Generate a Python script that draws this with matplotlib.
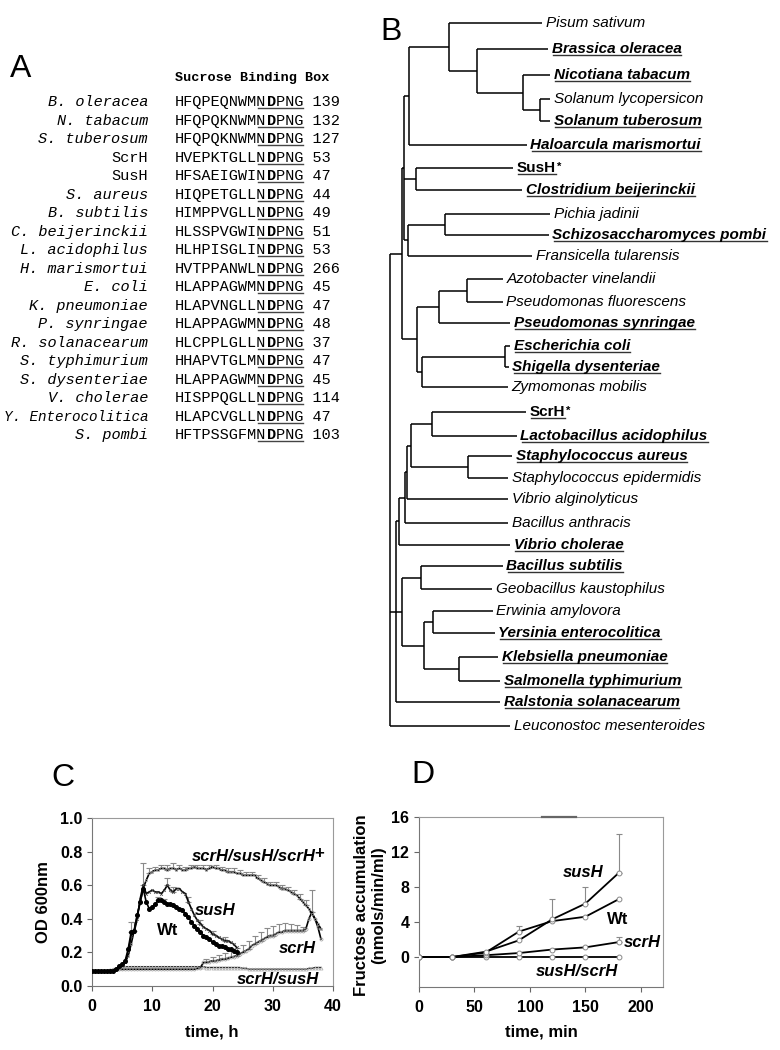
import matplotlib
matplotlib.use('Agg')
import matplotlib.pyplot as plt
import numpy as np

plt.rcParams['font.family'] = ['Liberation Sans', 'DejaVu Sans']

W, H = 780, 1050
fig = plt.figure(figsize=(7.8, 10.5), dpi=100)
fig.patch.set_facecolor('white')


def fx(px):
    return px / W


def fy(py):
    return 1 - py / H


# ---------------- Panel A data ----------------
seq_names = ["B. oleracea", "N. tabacum", "S. tuberosum", "ScrH", "SusH", "S. aureus",
             "B. subtilis", "C. beijerinckii", "L. acidophilus", "H. marismortui", "E. coli",
             "K. pneumoniae", "P. synringae", "R. solanacearum", "S. typhimurium",
             "S. dysenteriae", "V. cholerae", "Y. Enterocolitica", "S. pombi"]
seq_italic = [True, True, True, False, False, True, True, True, True, True, True,
              True, True, True, True, True, True, True, True]
seq_prefix = ["HFQPEQNWM", "HFQPQKNWM", "HFQPQKNWM", "HVEPKTGLL", "HFSAEIGWI", "HIQPETGLL",
              "HIMPPVGLL", "HLSSPVGWI", "HLHPISGLI", "HVTPPANWL", "HLAPPAGWM", "HLAPVNGLL",
              "HLAPPAGWM", "HLCPPLGLL", "HHAPVTGLM", "HLAPPAGWM", "HISPPQGLL", "HLAPCVGLL",
              "HFTPSSGFM"]
motif = "NDPNG"
seq_pos = [139, 132, 127, 53, 47, 44, 49, 51, 53, 266, 45, 47, 48, 37, 47, 45, 114, 47, 103]

# ---------------- Panel B data ----------------
leaf_names = ["Pisum sativum", "Brassica oleracea", "Nicotiana tabacum", "Solanum lycopersicon",
              "Solanum tuberosum", "Haloarcula marismortui", "SusH", "Clostridium beijerinckii",
              "Pichia jadinii", "Schizosaccharomyces pombi", "Fransicella tularensis",
              "Azotobacter vinelandii", "Pseudomonas fluorescens", "Pseudomonas synringae",
              "Escherichia coli", "Shigella dysenteriae", "Zymomonas mobilis", "ScrH",
              "Lactobacillus acidophilus", "Staphylococcus aureus", "Staphylococcus epidermidis",
              "Vibrio alginolyticus", "Bacillus anthracis", "Vibrio cholerae", "Bacillus subtilis",
              "Geobacillus kaustophilus", "Erwinia amylovora", "Yersinia enterocolitica",
              "Klebsiella pneumoniae", "Salmonella typhimurium", "Ralstonia solanacearum",
              "Leuconostoc mesenteroides"]
leaf_y = [23, 49, 75, 99, 121, 145, 168, 190, 214, 235, 256, 279, 302, 323, 346, 367, 387,
          412, 436, 456, 478, 499, 523, 545, 566, 589, 611, 633, 657, 681, 702, 726]
leaf_tip = [152, 158, 160, 160, 160, 137, 123, 132, 160, 159, 142, 113, 113, 120, 120, 119, 118,
            136, 127, 122, 118, 118, 118, 120, 113, 102, 103, 105, 108, 110, 110, 120]
leaf_bold = [False, True, True, False, True, True, True, True, False, True, False, False, False,
             True, True, True, False, True, True, True, False, False, False, True, True, False,
             False, True, True, True, True, False]
leaf_star = ["SusH", "ScrH"]

# node = (depth, [children]); depth measured from the root
tree = (0, [
    (12, [
        (14, [
            (19, [
                (59, ["Pisum sativum",
                      (87, ["Brassica oleracea",
                            (133, ["Nicotiana tabacum",
                                   (150, ["Solanum lycopersicon", "Solanum tuberosum"])])])]),
                "Haloarcula marismortui"]),
            (26, ["SusH", "Clostridium beijerinckii"]),
            (18, [(55, ["Pichia jadinii", "Schizosaccharomyces pombi"]),
                  "Fransicella tularensis"]),
        ]),
        (27, [
            (49, [(77, ["Azotobacter vinelandii", "Pseudomonas fluorescens"]),
                  "Pseudomonas synringae"]),
            (32, [(115, ["Escherichia coli", "Shigella dysenteriae"]), "Zymomonas mobilis"]),
        ]),
    ]),
    (6, [
        (9, [
            (15, [
                (17, [
                    (21, [(42, ["ScrH", "Lactobacillus acidophilus"]),
                          (78, ["Staphylococcus aureus", "Staphylococcus epidermidis"])]),
                    "Vibrio alginolyticus"]),
                "Bacillus anthracis"]),
            "Vibrio cholerae"]),
        (12, [(31, ["Bacillus subtilis", "Geobacillus kaustophilus"]),
              (34, [(43, ["Erwinia amylovora", "Yersinia enterocolitica"]),
                    (69, ["Klebsiella pneumoniae", "Salmonella typhimurium"])])]),
        "Ralstonia solanacearum"]),
    "Leuconostoc mesenteroides"])

# ---------------- Panel C data ----------------
c_time = np.arange(0, 38.01, 0.5)
c_time_short = np.arange(0, 24.01, 0.5)
c_comp = [0.09, 0.09, 0.09, 0.09, 0.09, 0.09, 0.09, 0.095, 0.10, 0.11,
          0.12, 0.14, 0.18, 0.25, 0.33, 0.42, 0.50, 0.58, 0.63, 0.67,
          0.68, 0.69, 0.69, 0.70, 0.70, 0.69, 0.70, 0.70, 0.69, 0.70,
          0.69, 0.69, 0.70, 0.70, 0.71, 0.70, 0.70, 0.70, 0.69, 0.70,
          0.71, 0.70, 0.70, 0.69, 0.69, 0.68, 0.68, 0.68, 0.67, 0.67,
          0.66, 0.66, 0.66, 0.66, 0.66, 0.64, 0.63, 0.62, 0.61, 0.60,
          0.60, 0.60, 0.59, 0.58, 0.58, 0.57, 0.56, 0.55, 0.54, 0.52,
          0.50, 0.48, 0.46, 0.43, 0.40, 0.37, 0.34]
c_wt = [0.09, 0.09, 0.09, 0.09, 0.09, 0.09, 0.09, 0.09, 0.10, 0.12,
        0.13, 0.15, 0.22, 0.32, 0.33, 0.42, 0.50, 0.58, 0.50, 0.46,
        0.47, 0.49, 0.51, 0.51, 0.50, 0.49, 0.49, 0.48, 0.47, 0.46,
        0.45, 0.43, 0.41, 0.38, 0.36, 0.34, 0.32, 0.30, 0.29, 0.28,
        0.26, 0.25, 0.24, 0.24, 0.23, 0.22, 0.22, 0.21, 0.20]
c_sus = [0.09, 0.09, 0.09, 0.09, 0.09, 0.09, 0.09, 0.09, 0.10, 0.12,
         0.13, 0.14, 0.20, 0.30, 0.32, 0.40, 0.52, 0.60, 0.55, 0.56,
         0.57, 0.56, 0.56, 0.55, 0.57, 0.60, 0.57, 0.56, 0.58, 0.58,
         0.56, 0.55, 0.50, 0.46, 0.42, 0.39, 0.37, 0.35, 0.34, 0.33,
         0.31, 0.30, 0.29, 0.28, 0.27, 0.27, 0.26, 0.25, 0.23]
c_scr = [0.09, 0.09, 0.09, 0.09, 0.09, 0.09, 0.095, 0.095, 0.10, 0.10,
         0.10, 0.10, 0.10, 0.10, 0.10, 0.10, 0.10, 0.10, 0.10, 0.10,
         0.10, 0.10, 0.10, 0.10, 0.10, 0.10, 0.10, 0.10, 0.10, 0.10,
         0.10, 0.10, 0.10, 0.10, 0.10, 0.105, 0.11, 0.14, 0.14, 0.145,
         0.15, 0.15, 0.155, 0.16, 0.16, 0.165, 0.17, 0.175, 0.18, 0.19,
         0.20, 0.21, 0.22, 0.24, 0.25, 0.26, 0.27, 0.28, 0.29, 0.30,
         0.30, 0.31, 0.32, 0.32, 0.33, 0.33, 0.33, 0.33, 0.33, 0.33,
         0.33, 0.34, 0.40, 0.44, 0.40, 0.35, 0.28]
c_double = [0.09, 0.09, 0.09, 0.09, 0.09, 0.09, 0.09, 0.10, 0.10, 0.11,
            0.11, 0.115, 0.115, 0.115, 0.115, 0.115, 0.115, 0.115, 0.115, 0.115,
            0.115, 0.115, 0.115, 0.115, 0.115, 0.115, 0.115, 0.115, 0.115, 0.115,
            0.115, 0.115, 0.115, 0.115, 0.115, 0.115, 0.115, 0.115, 0.11, 0.11,
            0.11, 0.11, 0.11, 0.11, 0.11, 0.11, 0.11, 0.11, 0.11, 0.11,
            0.105, 0.105, 0.10, 0.10, 0.10, 0.10, 0.10, 0.10, 0.10, 0.10,
            0.10, 0.10, 0.10, 0.10, 0.10, 0.10, 0.10, 0.10, 0.10, 0.10,
            0.10, 0.10, 0.105, 0.105, 0.11, 0.11, 0.11]
c_comp_err_t = [9.5, 10.5, 11.5, 12.5, 13.5, 14.5, 15.5, 16.5, 17.5, 18.5, 19.5, 20.5, 21.5,
                22.5, 23.5, 24.5, 25.5, 26.5, 27.5, 28.5, 29.5, 30.5, 31.5, 32.5, 33.5, 34.5, 35.5]
c_comp_err = [0.03, 0.02, 0.02, 0.03, 0.03, 0.02, 0.02, 0.02, 0.02, 0.02, 0.02, 0.02, 0.02,
              0.02, 0.02, 0.02, 0.02, 0.02, 0.02, 0.02, 0.02, 0.02, 0.02, 0.02, 0.02, 0.03, 0.03]
c_wt_err_t = [6.5, 7.0, 11.0, 12.0]
c_wt_err = [0.06, 0.05, 0.02, 0.02]
c_sus_err_t = [8.5, 12.5, 13.5, 16.0, 18.0, 20.0, 22.0]
c_sus_err = [0.13, 0.04, 0.03, 0.03, 0.02, 0.02, 0.02]
c_scr_err_t = [19, 20, 21, 22, 23, 24, 25, 26, 27, 28, 29, 30, 31, 32, 33, 34, 35, 36.5]
c_scr_err = [0.02, 0.025, 0.03, 0.035, 0.04, 0.045, 0.045, 0.045, 0.05, 0.05, 0.055, 0.06,
             0.05, 0.045, 0.04, 0.035, 0.02, 0.13]

# ---------------- Panel D data ----------------
d_time = [0, 30, 60, 90, 120, 150, 180]
d_wt = [0, 0, 0.5, 2.9, 4.1, 4.6, 6.6]
d_sus = [0, 0, 0.6, 1.9, 4.3, 6.1, 9.6]
d_scr = [0, 0, 0.2, 0.45, 0.85, 1.1, 1.7]
d_double = [0, 0, 0, 0, 0, 0, 0]
d_wt_err = [0, 0, 0, 0.6, 0, 0, 0]
d_sus_err = [0, 0, 0, 0, 2.3, 1.9, 4.4]
d_scr_err = [0, 0, 0, 0, 0, 0, 0.6]

# =============== Panel A ===============
axA = fig.add_axes([0, 0, 1, 1])
axA.set_xlim(0, W)
axA.set_ylim(H, 0)
axA.axis('off')
axA.patch.set_alpha(0)

MONO = 'Liberation Mono'
fsA = 11
cw = 0.6 * fsA * 100 / 72.0
x_seq = 175
x_name = 148
row0, drow = 101.7, 18.5
axA.text(x_seq, 78, "Sucrose Binding Box", family=MONO, fontweight='bold', fontsize=9.7,
         ha='left', va='center')
for i, nm in enumerate(seq_names):
    y = row0 + i * drow
    yb = y + 4.5
    # shrink a name only if it would not fit left of the sequence column
    fs_name = min(fsA, (x_name - 2) / (0.6 * len(nm)) * 0.72)
    axA.text(x_name, yb, nm, family=MONO, fontsize=fs_name, ha='right', va='baseline',
             style='italic' if seq_italic[i] else 'normal')
    axA.text(x_seq, yb, seq_prefix[i] + motif[0], family=MONO, fontsize=fsA,
             ha='left', va='baseline')
    axA.text(x_seq + 10 * cw, yb, motif[1], family=MONO, fontsize=fsA, fontweight='bold',
             ha='left', va='baseline')
    axA.text(x_seq + 11 * cw, yb, motif[2:] + " " + str(seq_pos[i]), family=MONO,
             fontsize=fsA, ha='left', va='baseline')
    axA.plot([x_seq + 9 * cw, x_seq + 14 * cw], [yb + 2, yb + 2], color='#444', lw=1.0)

# =============== Panel B ===============
axB = fig.add_axes([0, 0, 1, 1])
axB.set_xlim(-390, W - 390)
axB.set_ylim(H, 0)
axB.axis('off')
axB.patch.set_alpha(0)
tips = {n: (y, x) for n, y, x in zip(leaf_names, leaf_y, leaf_tip)}
LW = 1.1


def draw(node, parent_x):
    if isinstance(node, str):
        y, x = tips[node]
        axB.plot([parent_x, x], [y, y], color='k', lw=LW, solid_capstyle='butt')
        return y
    x, kids = node
    ys = [draw(k, x) for k in kids]
    axB.plot([x, x], [min(ys), max(ys)], color='k', lw=LW, solid_capstyle='butt')
    y = (min(ys) + max(ys)) / 2
    if parent_x is not None:
        axB.plot([parent_x, x], [y, y], color='k', lw=LW, solid_capstyle='butt')
    return y


draw(tree, None)

label_texts = []
for n, y, x, b in zip(leaf_names, leaf_y, leaf_tip, leaf_bold):
    t = axB.text(x + 3.5, y, n, fontsize=11, ha='left', va='center',
                 fontweight='bold' if b else 'normal',
                 style='normal' if n in leaf_star else 'italic')
    label_texts.append((n, b, t))

# =============== Panel C ===============
axC = fig.add_axes([fx(92), fy(986), (333 - 92) / W, (986 - 818) / H])
axC.set_xlim(0, 40)
axC.set_ylim(0, 1.0)
ecol = '#8a8a8a'


def up_err(ax, tt, vals, et, ev):
    idx = [int(np.argmin(np.abs(np.asarray(tt) - e))) for e in et]
    xs = [tt[i] for i in idx]
    ys = [vals[i] for i in idx]
    ax.errorbar(xs, ys, yerr=[np.zeros(len(ev)), ev], fmt='none', ecolor=ecol,
                elinewidth=0.8, capsize=2, capthick=0.8, zorder=1)


up_err(axC, c_time, c_comp, c_comp_err_t, c_comp_err)
up_err(axC, c_time_short, c_wt, c_wt_err_t, c_wt_err)
up_err(axC, c_time_short, c_sus, c_sus_err_t, c_sus_err)
up_err(axC, c_time, c_scr, c_scr_err_t, c_scr_err)

axC.plot(c_time, c_double, color='#222', lw=1.0, marker='^', ms=2.2, mfc='none',
         mec='#aaa', mew=0.5, zorder=2)
axC.plot(c_time, c_scr, color='k', lw=1.2, marker='o', ms=2.2, mfc='none',
         mec='#999', mew=0.5, zorder=3)
axC.plot(c_time, c_comp, color='k', lw=1.2, marker='s', ms=2.0, mfc='none',
         mec='#999', mew=0.5, zorder=3)
axC.plot(c_time_short, c_sus, color='k', lw=1.2, marker='x', ms=2.0,
         mec='#444', mew=0.5, zorder=4)
axC.plot(c_time_short, c_wt, color='k', lw=1.2, marker='o', ms=2.6, mfc='k',
         mec='k', zorder=5)

axC.set_xticks([0, 10, 20, 30, 40])
axC.set_xticklabels(['0', '10', '20', '30', '40'], fontweight='bold', fontsize=11.5)
axC.set_yticks([0, 0.2, 0.4, 0.6, 0.8, 1.0])
axC.set_yticklabels(['0.0', '0.2', '0.4', '0.6', '0.8', '1.0'], fontweight='bold',
                    fontsize=11.5)

lab_kw = dict(fontsize=12, fontweight='bold', va='center')
t_comp = axC.text(16.6, 0.77, "scrH/susH/scrH", style='italic', ha='left', **lab_kw)
axC.text(20.4, 0.45, "susH", style='italic', ha='center', **lab_kw)
axC.text(12.6, 0.33, "Wt", ha='center', **lab_kw)
axC.text(34.0, 0.226, "scrH", style='italic', ha='center', **lab_kw)
axC.text(30.9, 0.04, "scrH/susH", style='italic', ha='center', **lab_kw)

fig.text(fx(44), fy(902), "OD 600nm", rotation=90, ha='center', va='center',
         fontsize=12, fontweight='bold')
fig.text(fx(212), fy(1032), "time, h", ha='center', va='center', fontsize=12,
         fontweight='bold')

# =============== Panel D ===============
axD = fig.add_axes([fx(419), fy(987), (663 - 419) / W, (987 - 817) / H])
axD.set_xlim(0, 220)
axD.set_ylim(-3.43, 16)
for vals, err in [(d_wt, d_wt_err), (d_sus, d_sus_err), (d_scr, d_scr_err)]:
    sel = [i for i, e in enumerate(err) if e > 0]
    axD.errorbar([d_time[i] for i in sel], [vals[i] for i in sel],
                 yerr=[np.zeros(len(sel)), [err[i] for i in sel]], fmt='none',
                 ecolor=ecol, elinewidth=0.8, capsize=2.5, capthick=0.8, zorder=1)
for vals in [d_double, d_scr, d_wt, d_sus]:
    axD.plot(d_time, vals, color='k', lw=1.3, marker='o', ms=3.5, mfc='white',
             mec='#888', mew=0.7, zorder=3)
axD.set_xticks([0, 50, 100, 150, 200])
axD.set_xticklabels(['0', '50', '100', '150', '200'], fontweight='bold', fontsize=11.5)
axD.set_yticks([0, 4, 8, 12, 16])
axD.set_yticklabels(['0', '4', '8', '12', '16'], fontweight='bold', fontsize=11.5)
axD.plot([111, 142], [16, 16], color='#666', lw=1.6, clip_on=False, zorder=6)

axD.text(147.9, 9.6, "susH", style='italic', ha='center', **lab_kw)
axD.text(179.4, 4.34, "Wt", ha='center', **lab_kw)
axD.text(201, 1.71, "scrH", style='italic', ha='center', **lab_kw)
axD.text(142.5, -1.71, "susH/scrH", style='italic', ha='center', **lab_kw)

fig.text(fx(370), fy(905), "Fructose accumulation\n(nmols/min/ml)", rotation=90,
         ha='center', va='center', multialignment='center', fontsize=12,
         fontweight='bold', linespacing=1.25)
fig.text(fx(541), fy(1032), "time, min", ha='center', va='center', fontsize=12,
         fontweight='bold')

for ax in (axC, axD):
    for s in ax.spines.values():
        s.set_color('#9a9a9a')
        s.set_linewidth(0.8)
    ax.spines['left'].set_color('#777')
    ax.spines['bottom'].set_color('#777')
    ax.tick_params(axis='both', direction='out', length=3.5, width=0.8, color='#666')
    ax.tick_params(axis='x', pad=6)
    ax.tick_params(axis='y', pad=3.5)

# =============== panel letters ===============
for letter, px, py in [("A", 10, 69), ("B", 380, 32), ("C", 51, 778), ("D", 411, 775)]:
    fig.text(fx(px), fy(py), letter, fontsize=23, ha='left', va='center')

# =============== underlines and superscripts (need text extents) ===============
fig.canvas.draw()
rend = fig.canvas.get_renderer()
invB = axB.transData.inverted()
for n, b, t in label_texts:
    bb = t.get_window_extent(renderer=rend)
    if b:
        (x0, yy), (x1, _) = invB.transform([[bb.x0 + 1, bb.y0 + 1.3], [bb.x1, bb.y0 + 1.3]])
        axB.plot([x0, x1], [yy, yy], color='#333', lw=1.0)
    if n in leaf_star:
        (xs, ys) = invB.transform([bb.x1 + 1, bb.y1 - 1])
        axB.text(xs, ys, "*", fontsize=8, fontweight='bold', ha='left', va='top')

bb = t_comp.get_window_extent(renderer=rend)
invC = axC.transData.inverted()
xs, ys = invC.transform([bb.x1 - 1.5, (bb.y0 + bb.y1) / 2 + 3])
axC.text(xs, ys, "+", fontsize=12, fontweight='bold', ha='left', va='center')

fig.savefig('out.png', dpi=100, facecolor='white')
